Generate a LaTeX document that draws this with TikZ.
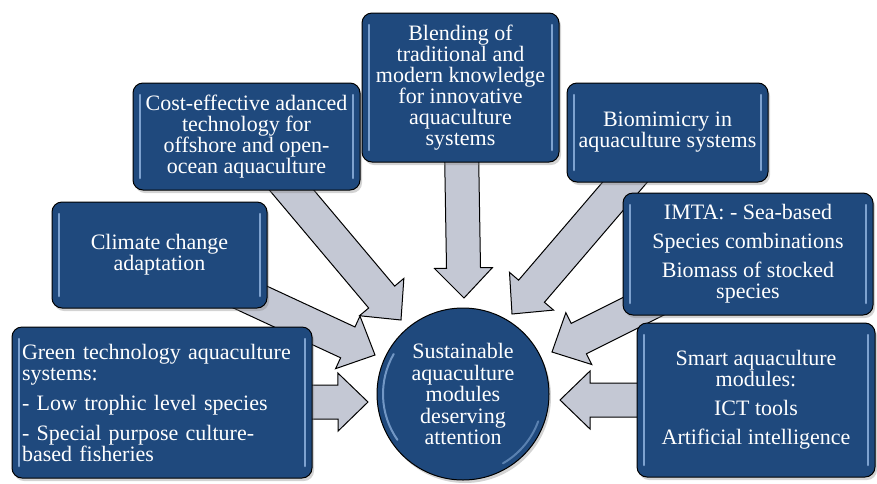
\documentclass[tikz,border=0pt]{standalone}
\usepackage{fontspec}
\setmainfont{Liberation Serif}
\usetikzlibrary{calc,shadows,backgrounds}

\definecolor{boxblue}{RGB}{31,73,125}
\definecolor{shinyblue}{RGB}{150,185,228}
\definecolor{arrowgray}{RGB}{196,200,212}

\tikzset{
	topic/.style={draw=black, line width=1pt, fill=boxblue, rounded corners=10pt,
		text=white, align=center, inner sep=4pt,
		font=\fontsize{22}{21}\selectfont,
		drop shadow={shadow xshift=2pt, shadow yshift=-3pt, opacity=.35},
		path picture={
			\draw[shinyblue, line width=2.5pt, line cap=round, opacity=.8]
			([xshift=7pt,yshift=-12pt]path picture bounding box.north west) --
			([xshift=7pt,yshift=12pt]path picture bounding box.south west);
			\draw[shinyblue, line width=2.5pt, line cap=round, opacity=.8]
			([xshift=-7pt,yshift=-12pt]path picture bounding box.north east) --
			([xshift=-7pt,yshift=12pt]path picture bounding box.south east);
		}},
	hub/.style={circle, draw=black, line width=1pt, fill=boxblue, text=white,
		align=center, inner sep=0pt, minimum size=172pt,
		font=\fontsize{22}{21.5}\selectfont,
		drop shadow={shadow xshift=2pt, shadow yshift=-3pt, opacity=.35},
		path picture={
			\draw[shinyblue, line width=2pt, line cap=round, opacity=.7]
			(path picture bounding box.center) ++(150:80pt) arc[start angle=150, end angle=215, radius=80pt];
			\draw[shinyblue, line width=2pt, line cap=round, opacity=.5]
			(path picture bounding box.center) ++(-60:80pt) arc[start angle=-60, end angle=-20, radius=80pt];
		}},
	arrowbody/.style={draw=black, line width=1pt, fill=arrowgray, line join=miter}
}

% block arrow from a box (#1) to a free tip (#2)
\newcommand{\flowarrow}[2]{%
	\coordinate (hb) at ($(#2)!30pt!(#1)$);
	\draw[arrowbody] ($(#1)!17pt!90:(#2)$) -- ($(hb)!17pt!90:(#2)$)
	-- ($(hb)!29pt!90:(#2)$) -- (#2) -- ($(hb)!29pt!-90:(#2)$)
	-- ($(hb)!17pt!-90:(#2)$) -- ($(#1)!17pt!-90:(#2)$) -- cycle;
}

\begin{document}
\begin{tikzpicture}[x=1pt,y=-1pt]
	\useasboundingbox (0,0) rectangle (877,483);
	
	% Draw the central circle
	\node[hub] (hub) at (463,394) {Sustainable\\aquaculture\\modules\\deserving\\attention};
	
	% Draw the boxes around it
	\node[topic, minimum width=300pt, minimum height=151pt, align=left, text width=280pt] (green) at (162,402.5)
	{Green technology aquaculture\\systems:\\[9pt]- Low trophic level  species\\[9pt]- Special purpose culture-\\based fisheries};
	\node[topic, minimum width=215pt, minimum height=106pt] (climate) at (159.5,255) {Climate  change\\adaptation};
	\node[topic, minimum width=227pt, minimum height=107pt] (cost) at (246.5,136.5)
	{Cost-effective adanced\\technology for\\offshore and open-\\ocean aquaculture};
	\node[topic, minimum width=197pt, minimum height=149pt] (blend) at (460.5,87.5)
	{Blending  of\\traditional  and\\modern knowledge\\for innovative\\aquaculture\\systems};
	\node[topic, minimum width=201pt, minimum height=99pt] (bio) at (667.5,132.5) {Biomimicry  in\\aquaculture  systems};
	\node[topic, minimum width=250pt, minimum height=122pt] (imta) at (748,254)
	{IMTA: - Sea-based\\[8pt]Species combinations\\[8pt]Biomass of stocked\\species};
	\node[topic, minimum width=238pt, minimum height=154pt] (smart) at (756,400)
	{Smart aquaculture\\modules:\\[8pt]ICT tools\\[8pt]Artificial  intelligence};
	
	% Arrow tips at the circle
	\coordinate (tipgreen) at (368,402);
	\coordinate (tipclimate) at (375,355);
	\coordinate (tipcost) at (401,320);
	\coordinate (tipblend) at (464,298);
	\coordinate (tipbio) at (512,314);
	\coordinate (tipimta) at (552,352);
	\coordinate (tipsmart) at (560,400);
	
	% Draw the arrows behind the boxes
	\begin{pgfonlayer}{background}
		\flowarrow{green}{tipgreen}
		\flowarrow{climate}{tipclimate}
		\flowarrow{cost}{tipcost}
		\flowarrow{blend}{tipblend}
		\flowarrow{bio}{tipbio}
		\flowarrow{imta}{tipimta}
		\flowarrow{smart}{tipsmart}
	\end{pgfonlayer}
\end{tikzpicture}
\end{document}
